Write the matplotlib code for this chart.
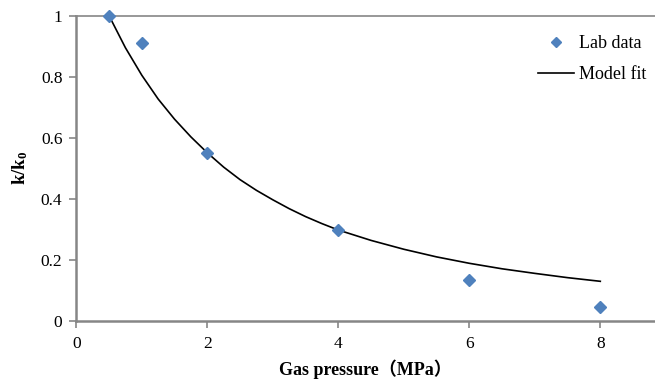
import matplotlib
matplotlib.use("Agg")
import matplotlib.pyplot as plt

# Lab data
lab_p = [0.5, 1.0, 2.0, 4.0, 6.0, 8.0]
lab_k = [1.0, 0.912, 0.549, 0.297, 0.134, 0.045]

# Model fit curve
fit_p = [0.5, 0.6, 0.75, 1.0, 1.25, 1.5, 1.75, 2.0, 2.25, 2.5, 2.75, 3.0, 3.25, 3.5, 3.75,
         4.0, 4.5, 5.0, 5.5, 6.0, 6.5, 7.0, 7.5, 8.0]
fit_k = [1.0, 0.958, 0.895, 0.805, 0.727, 0.661, 0.603, 0.551, 0.504, 0.463, 0.428, 0.397,
         0.368, 0.342, 0.319, 0.298, 0.264, 0.235, 0.210, 0.189, 0.171, 0.156, 0.142, 0.130]

xticks = [0, 2, 4, 6, 8]
yticks = [0, 0.2, 0.4, 0.6, 0.8, 1.0]
ytick_labels = ["0", "0.2", "0.4", "0.6", "0.8", "1"]

plt.rcParams['font.family'] = ['Liberation Serif', 'Noto Sans CJK SC', 'DejaVu Sans']
plt.rcParams['mathtext.fontset'] = 'custom'
plt.rcParams['mathtext.rm'] = 'Liberation Serif'
plt.rcParams['mathtext.bf'] = 'Liberation Serif:bold'
plt.rcParams['mathtext.it'] = 'Liberation Serif:italic'

fig = plt.figure(figsize=(6.55, 3.8), dpi=100)
ax = fig.add_axes([76.3/655, 1-321/380, 1-76.3/655, (321-15.7)/380])

blue = '#4F81BD'
spine_col = '#868686'

ax.plot(fit_p, fit_k, color='black', lw=1.2, label='Model fit', zorder=2,
        solid_joinstyle='round')
ax.plot(lab_p, lab_k, linestyle='none', marker='D', markersize=6, color=blue,
        label='Lab data', clip_on=False, zorder=3)

ax.set_xlim(0, (655-76.3)/65.5)
ax.set_ylim(0, 1)
ax.set_xticks(xticks)
ax.set_xticklabels([str(t) for t in xticks])
ax.set_yticks(yticks)
ax.set_yticklabels(ytick_labels)

for s in ['left', 'bottom']:
    ax.spines[s].set_color(spine_col)
    ax.spines[s].set_linewidth(1.8)
ax.spines['top'].set_color(spine_col)
ax.spines['top'].set_linewidth(1.2)
ax.spines['right'].set_visible(False)

ax.tick_params(axis='both', direction='out', length=5, width=1.2, color=spine_col,
               labelsize=12.5, labelcolor='black')
ax.tick_params(axis='x', pad=6)
ax.tick_params(axis='y', pad=5)

ax.set_xlabel('Gas pressure（MPa）', fontsize=13, fontweight='bold', labelpad=5)
ax.set_ylabel(r'$\mathbf{k/k_0}$', fontsize=13.5, labelpad=8)

handles, labels = ax.get_legend_handles_labels()
order = [1, 0]
leg = ax.legend([handles[i] for i in order], [labels[i] for i in order],
                loc='upper right', bbox_to_anchor=(0.998, 0.961), borderaxespad=0,
                frameon=False, fontsize=13, handlelength=2.0, handletextpad=0.3,
                labelspacing=0.8, markerscale=0.8)

fig.savefig('out.png', dpi=100)
